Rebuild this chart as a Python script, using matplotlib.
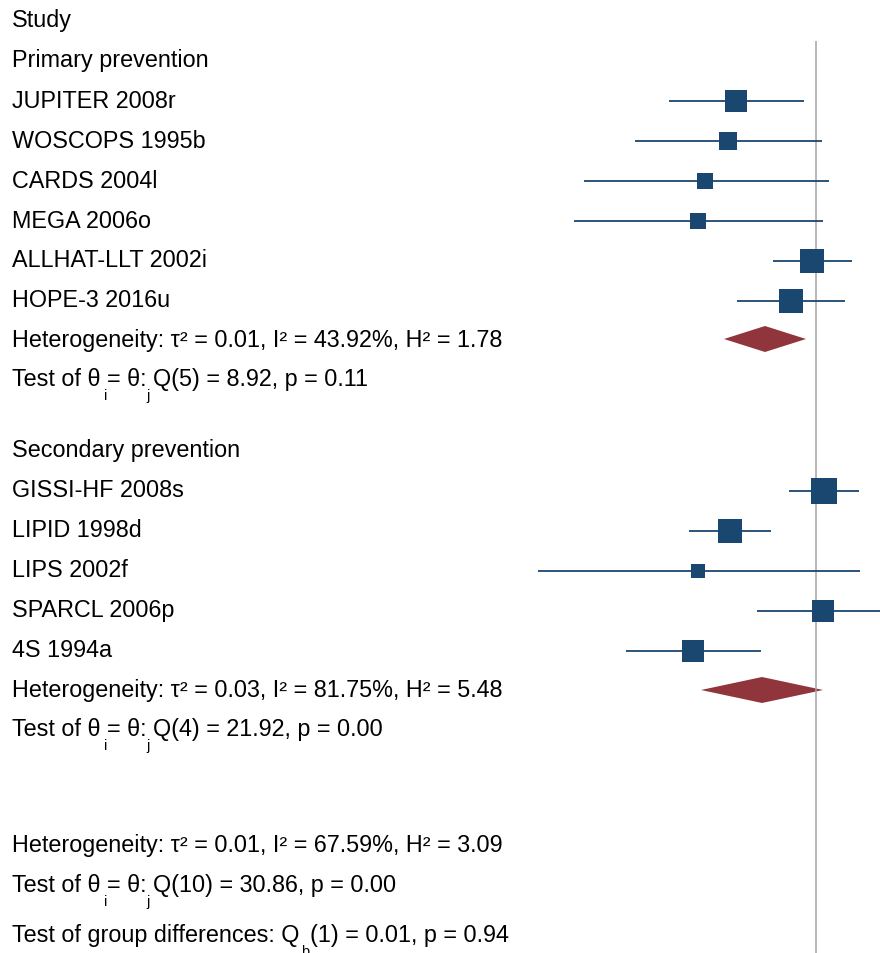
import matplotlib
matplotlib.use("Agg")
import matplotlib.pyplot as plt
import numpy as np

# ---------------- data (log risk ratio scale) ----------------
studies_primary = ["JUPITER 2008r", "WOSCOPS 1995b", "CARDS 2004l",
                   "MEGA 2006o", "ALLHAT-LLT 2002i", "HOPE-3 2016u"]
est_primary = [-0.200, -0.220, -0.2775, -0.295, -0.010, -0.0625]
lo_primary = [-0.3675, -0.4525, -0.580, -0.605, -0.1075, -0.1975]
hi_primary = [-0.030, 0.015, 0.0325, 0.0175, 0.090, 0.0725]
w_primary = [9.51, 7.09, 5.68, 5.68, 12.28, 11.32]
pooled_primary = [-0.1275, -0.230, -0.025]   # est, lo, hi

studies_secondary = ["GISSI-HF 2008s", "LIPID 1998d", "LIPS 2002f",
                     "SPARCL 2006p", "4S 1994a"]
est_secondary = [0.020, -0.216, -0.295, 0.0175, -0.3075]
lo_secondary = [-0.0675, -0.3175, -0.695, -0.1475, -0.475]
hi_secondary = [0.1075, -0.1125, 0.110, 0.1825, -0.1375]
w_secondary = [13.28, 12.28, 3.85, 9.51, 9.51]
pooled_secondary = [-0.135, -0.2875, 0.0175]

header = "Study"
group_labels = ["Primary prevention", "Secondary prevention"]
het_primary = "Heterogeneity: τ² = 0.01, I² = 43.92%, H² = 1.78"
test_primary = "Test of θ = θ: Q(5) = 8.92, p = 0.11"
het_secondary = "Heterogeneity: τ² = 0.03, I² = 81.75%, H² = 5.48"
test_secondary = "Test of θ = θ: Q(4) = 21.92, p = 0.00"
het_overall = "Heterogeneity: τ² = 0.01, I² = 67.59%, H² = 3.09"
test_overall = "Test of θ = θ: Q(10) = 30.86, p = 0.00"
group_test = ["Test of group differences: Q", "b", "(1) = 0.01, p = 0.94"]

# ---------------- style ----------------
NAVY = "#1a476f"
MAROON = "#90353b"
GRAY = "#a3a3a3"
FONT = "Liberation Sans"
FS = 16.8
SUBFS = 10.5
SUBDY = 14
W, H = 880, 954

fig = plt.figure(figsize=(W / 100, H / 100), dpi=100)
ax = fig.add_axes([0, 0, 1, 1])
ax.set_xlim(-2.04, 0.16)
ax.set_ylim(H, 0)
ax.axis("off")
tax = fig.add_axes([0, 0, 1, 1], facecolor="none")
tax.set_xlim(0, W)
tax.set_ylim(H, 0)
tax.axis("off")
renderer = fig.canvas.get_renderer()

# layout rows (pixel centres of text rows)
step = 40.0
y_header = 20
y_group1 = 60
y_prim = [100 + step * i for i in range(len(studies_primary))]
y_het1 = 340
y_test1 = 379
y_group2 = 450
y_sec = [490 + step * i for i in range(len(studies_secondary))]
y_het2 = 690
y_test2 = 729
y_het3 = 845
y_test3 = 885
y_grp = 935

XT = 12
BASE = 7.5


def txt(y, s, **kw):
    return tax.text(XT, y + BASE, s, fontsize=FS, family=FONT,
                    va="baseline", ha="left", color="black", **kw)


def width_of(s, size=FS):
    t = tax.text(0, 0, s, fontsize=size, family=FONT)
    bb = t.get_window_extent(renderer)
    t.remove()
    return bb.width


def theta_line(y, s):
    txt(y, s)
    wi = width_of("Test of θ") + 3.5
    wj = width_of("Test of θ = θ") + 6.5
    for w_, ch in ((wi, "i"), (wj, "j")):
        tax.text(XT + w_, y + BASE + SUBDY, ch, fontsize=SUBFS,
                 family=FONT, va="baseline", ha="left")


# reference line
ax.vlines(0, 42, H, color=GRAY, lw=1.1)

# texts
txt(y_header, header)
txt(y_group1, group_labels[0])
txt(y_group2, group_labels[1])
for name, y in zip(studies_primary, y_prim):
    txt(y, name)
for name, y in zip(studies_secondary, y_sec):
    txt(y, name)
txt(y_het1, het_primary)
theta_line(y_test1, test_primary)
txt(y_het2, het_secondary)
theta_line(y_test2, test_secondary)
txt(y_het3, het_overall)
theta_line(y_test3, test_overall)

# group differences line with Q_b
txt(y_grp, group_test[0])
x = XT + width_of(group_test[0]) + 1.5
tax.text(x, y_grp + BASE + SUBDY, group_test[1], fontsize=SUBFS, family=FONT,
         va="baseline", ha="left")
x += width_of(group_test[1], SUBFS) + 1.5
tax.text(x, y_grp + BASE, group_test[2], fontsize=FS, family=FONT,
         va="baseline", ha="left")

# study markers
SQ = 7.13  # px per sqrt(weight)


def draw_studies(ests, los, his, ws, ys):
    for e, lo, hi, w, y in zip(ests, los, his, ws, ys):
        yy = y + 2
        ax.hlines(yy, lo, hi, color=NAVY, lw=1.3)
        ax.plot([e], [yy], marker="s", ls="none", color=NAVY,
                ms=SQ * np.sqrt(w) * 0.72, mew=0)


draw_studies(est_primary, lo_primary, hi_primary, w_primary, y_prim)
draw_studies(est_secondary, lo_secondary, hi_secondary, w_secondary, y_sec)


def diamond(p, y):
    e, lo, hi = p
    ax.fill([lo, e, hi, e], [y, y - 13, y, y + 13], color=MAROON, lw=0)


diamond(pooled_primary, y_het1)
diamond(pooled_secondary, y_het2 + 1)

fig.savefig("out.png", dpi=100)
